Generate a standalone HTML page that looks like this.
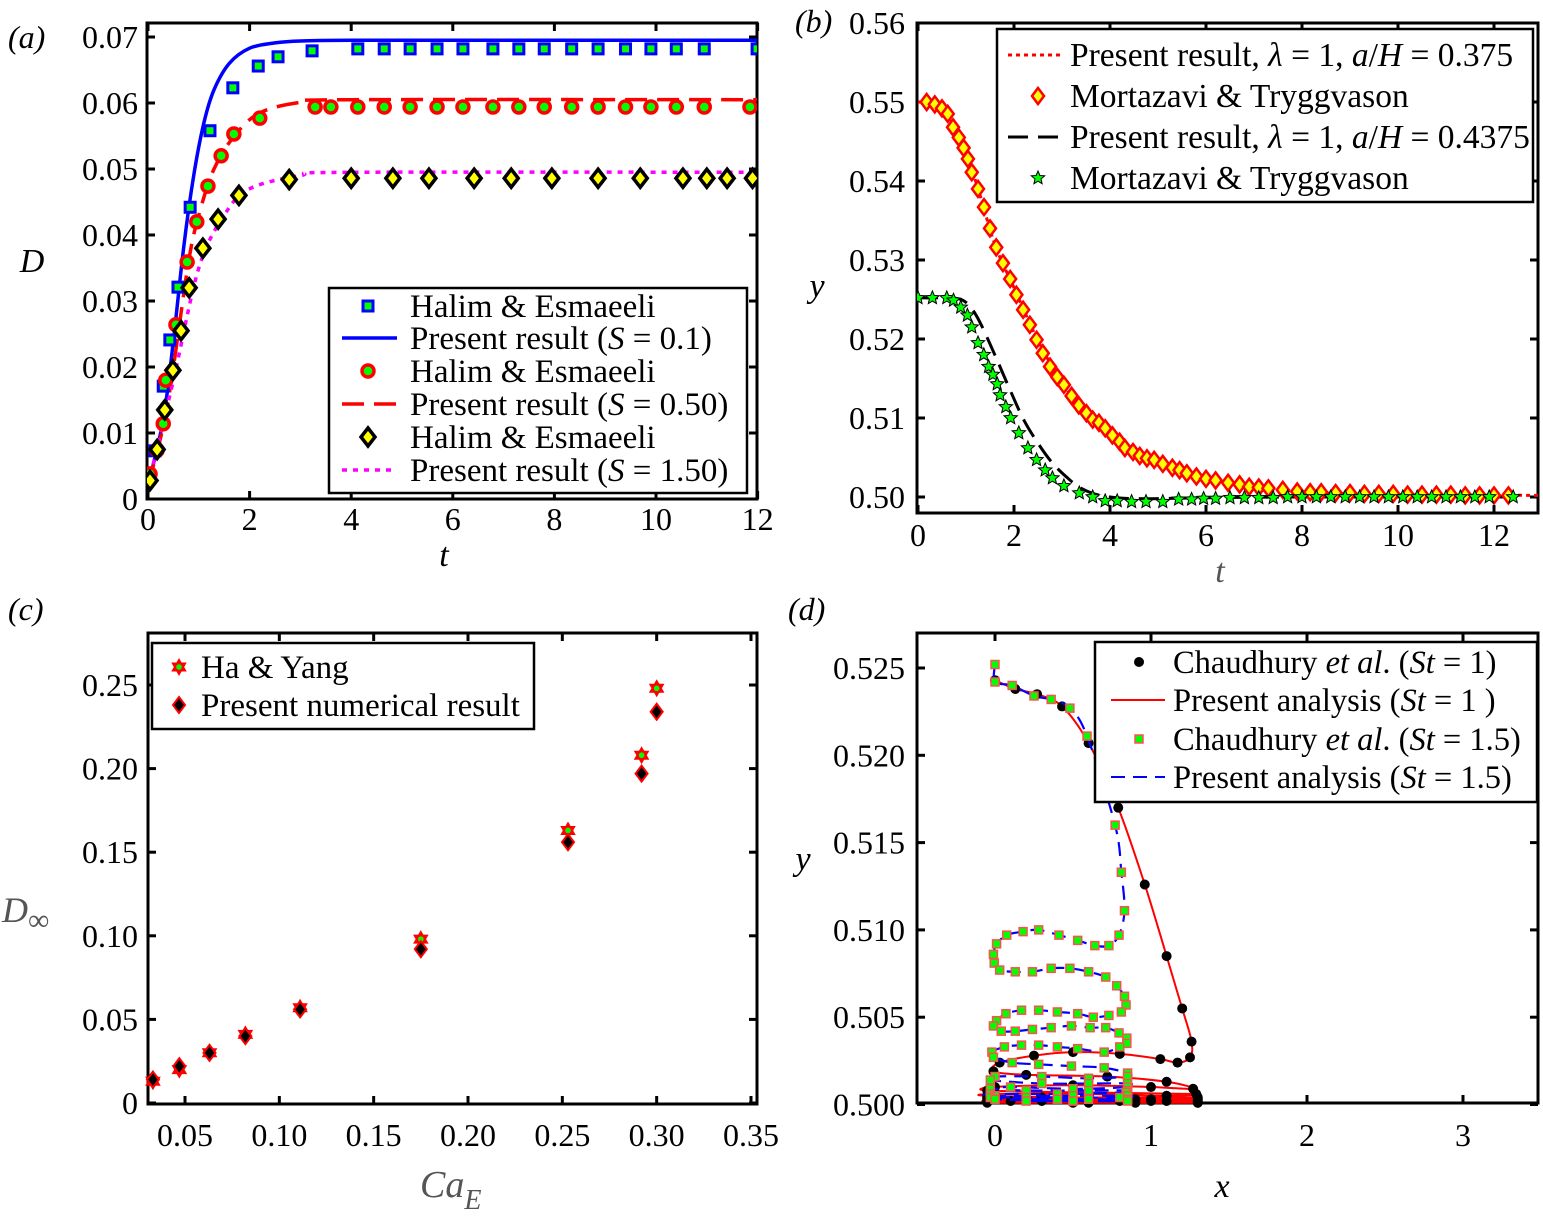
<!DOCTYPE html>
<html><head><meta charset="utf-8"><style>
html,body{margin:0;padding:0;background:#fff;}
svg text{font-family:"Liberation Serif",serif;}
</style></head><body>
<svg id="fig" width="1543" height="1223" viewBox="0 0 1543 1223" xmlns="http://www.w3.org/2000/svg">
<g id="layer"></g>
</svg>
<script>
// ---------- Panel (a) data ----------
const aSqT=[0.04,0.14,0.3,0.43,0.59,0.83,1.22,1.67,2.17,2.56,3.23,4.13,4.65,5.16,5.69,6.2,6.79,7.3,7.8,8.34,8.86,9.4,9.9,10.4,10.95,11.99];
const aSqD=[0.0033,0.0073,0.0171,0.0241,0.0321,0.0442,0.0558,0.0623,0.0656,0.067,0.0679,0.0682,0.0682,0.0682,0.0682,0.0682,0.0682,0.0682,0.0682,0.0682,0.0682,0.0682,0.0682,0.0682,0.0682,0.0682];
const aLineBT=[0,0.3,0.5,0.7,0.9,1.1,1.3,1.6,2,2.5,3,4,6,12];
const aLineBD=[0.002,0.012,0.024,0.038,0.049,0.057,0.062,0.066,0.0683,0.0691,0.0694,0.0695,0.0695,0.0695];
const aCiT=[0.04,0.18,0.3,0.35,0.55,0.77,0.96,1.18,1.44,1.69,2.2,3.29,3.6,4.13,4.65,5.16,5.69,6.2,6.79,7.3,7.8,8.34,8.86,9.4,9.9,10.4,10.95,11.85];
const aCiD=[0.0038,0.0074,0.0114,0.018,0.0264,0.0359,0.042,0.0474,0.052,0.0553,0.0577,0.0594,0.0594,0.0594,0.0594,0.0594,0.0594,0.0594,0.0594,0.0594,0.0594,0.0594,0.0594,0.0594,0.0594,0.0594,0.0594,0.0594];
const aLineRT=[0,0.3,0.5,0.8,1.0,1.3,1.7,2.2,3,4,12];
const aLineRD=[0.002,0.011,0.02,0.036,0.043,0.05,0.055,0.0585,0.0601,0.0605,0.0605];
const aDiT=[0.04,0.18,0.33,0.49,0.65,0.81,1.08,1.38,1.79,2.78,4.0,4.82,5.53,6.42,7.15,7.95,8.86,9.69,10.53,11.0,11.4,11.9];
const aDiD=[0.0028,0.0075,0.0135,0.0195,0.0255,0.032,0.038,0.0424,0.046,0.0484,0.0486,0.0486,0.0486,0.0486,0.0486,0.0486,0.0486,0.0486,0.0486,0.0486,0.0486,0.0486];
const aLineMT=[0,0.5,1,1.5,2,3,4,12];
const aLineMD=[0.002,0.018,0.035,0.043,0.047,0.049,0.0495,0.0495];
const aXTicks=[0,2,4,6,8,10,12];
const aYTicks=[0,0.01,0.02,0.03,0.04,0.05,0.06,0.07];
const aYLabels=["0","0.01","0.02","0.03","0.04","0.05","0.06","0.07"];

// ---------- Panel (b) data ----------
const bDiT=[0.18,0.35,0.5,0.62,0.73,0.85,0.95,1.04,1.12,1.25,1.375,1.5,1.63,1.77,1.92,2.05,2.19,2.33,2.47,2.6,2.75,2.9,3.04,3.2,3.35,3.51,3.64,3.77,3.9,4.05,4.2,4.31,4.48,4.62,4.77,4.92,5.1,5.3,5.45,5.6,5.8,6.0,6.2,6.46,6.7,6.9,7.1,7.3,7.6,7.9,8.17,8.4,8.7,9.0,9.3,9.6,9.9,10.2,10.5,10.8,11.1,11.4,11.7,12.0,12.3];
const bDiY=[0.55,0.5497,0.5492,0.5485,0.5468,0.5455,0.5442,0.5428,0.5411,0.539,0.5367,0.534,0.5316,0.5296,0.5276,0.5256,0.5237,0.5218,0.5199,0.5182,0.5165,0.5152,0.5142,0.5128,0.5116,0.5106,0.5098,0.5094,0.5087,0.5078,0.507,0.5062,0.5057,0.5052,0.5049,0.5047,0.5042,0.5037,0.5034,0.503,0.5026,0.5023,0.5021,0.5018,0.5016,0.5013,0.5012,0.5011,0.5009,0.5007,0.5006,0.5006,0.5005,0.5005,0.5004,0.5004,0.5004,0.5003,0.5003,0.5003,0.5003,0.5002,0.5002,0.5002,0.5002];
const bLineRT=[0,0.4,0.8,1.2,1.6,2.0,2.5,3.0,3.5,4.0,4.5,5.0,6.0,7.0,8.0,9.0,10,13];
const bLineRY=[0.55,0.5496,0.5465,0.540,0.532,0.5265,0.5198,0.5145,0.5107,0.508,0.506,0.5045,0.5025,0.5013,0.5007,0.5004,0.5003,0.5002];
const bStT=[0,0.3,0.6,0.74,0.89,1.03,1.12,1.25,1.37,1.47,1.56,1.65,1.71,1.83,1.93,2.1,2.29,2.47,2.65,2.8,3.04,3.36,3.64,3.9,4.15,4.45,4.75,5.1,5.43,5.7,5.95,6.2,6.5,6.8,7.1,7.4,7.7,8.0,8.3,8.6,8.9,9.2,9.5,9.8,10.1,10.4,10.7,11.0,11.3,11.6,11.9,12.4];
const bStY=[0.5252,0.5252,0.5252,0.5249,0.524,0.523,0.5215,0.5195,0.518,0.5165,0.5155,0.5143,0.5129,0.5114,0.51,0.5081,0.5062,0.5047,0.5034,0.5024,0.5014,0.5005,0.5,0.4995,0.4995,0.4994,0.4994,0.4994,0.4997,0.4997,0.4998,0.4998,0.4999,0.4999,0.4999,0.4999,0.5,0.5,0.5,0.5,0.5,0.5,0.5,0.5,0.5,0.5,0.5,0.5,0.5,0.5,0.5,0.5];
const bLineKT=[0,0.6,0.9,1.1,1.3,1.6,1.9,2.2,2.5,2.8,3.1,3.4,3.8,4.5,6,8,12.4];
const bLineKY=[0.5252,0.5252,0.525,0.524,0.522,0.518,0.5138,0.5098,0.5068,0.5043,0.5025,0.5011,0.5002,0.4998,0.4999,0.5,0.5];
const bXTicks=[0,2,4,6,8,10,12];
const bYTicks=[0.50,0.51,0.52,0.53,0.54,0.55,0.56];
const bYLabels=["0.50","0.51","0.52","0.53","0.54","0.55","0.56"];

// ---------- Panel (c) data ----------
const cCa=[0.033,0.047,0.063,0.082,0.111,0.175,0.253,0.292,0.300];
const cHaYang=[0.013,0.020,0.030,0.041,0.057,0.098,0.163,0.208,0.248];
const cPresent=[0.014,0.022,0.030,0.040,0.056,0.092,0.156,0.197,0.234];
const cXTicks=[0.05,0.10,0.15,0.20,0.25,0.30,0.35];
const cXLabels=["0.05","0.10","0.15","0.20","0.25","0.30","0.35"];
const cYTicks=[0,0.05,0.10,0.15,0.20,0.25];
const cYLabels=["0","0.05","0.10","0.15","0.20","0.25"];

// ---------- Panel (d) data ----------
const dRedX=[0,0.13,0.27,0.43,0.60,0.79,0.96,1.10,1.20,1.26,1.25,1.17,1.06,0.80,0.50,0.25,0.03,-0.01,0.2,0.72,1.1,1.27,1.0,0.5,0.0,-0.05,0.5,1.29,1.1,0.6,0.0,-0.05,0.6,1.3,1.0,0.3,-0.05,0.2,0.9,1.3,1.1,0.4,-0.05,0.3,1.0,1.3,0.8,0.1,-0.05,0.6,1.3,0.9,-0.05,1.3,0.5];
const dRedY=[0.5243,0.5238,0.5235,0.5228,0.5207,0.5170,0.5126,0.5085,0.5055,0.5036,0.5027,0.5024,0.5026,0.5029,0.5030,0.5028,0.5024,0.5019,0.5017,0.5016,0.5013,0.5009,0.5010,0.5011,0.5010,0.5008,0.5007,0.5006,0.5005,0.5006,0.5006,0.5005,0.5004,0.5004,0.5003,0.5004,0.5004,0.5003,0.5003,0.5003,0.5002,0.5003,0.5003,0.5002,0.5002,0.5002,0.5002,0.5002,0.5002,0.5001,0.5001,0.5001,0.5001,0.5001,0.5001];
const dBlueX=[0,0,0.11,0.25,0.36,0.48,0.59,0.77,0.81,0.83,0.795,0.73,0.64,0.53,0.41,0.28,0.18,0.075,0.01,-0.01,-0.005,0.03,0.13,0.24,0.36,0.48,0.60,0.71,0.78,0.83,0.84,0.81,0.73,0.63,0.53,0.40,0.28,0.17,0.07,0.01,-0.01,0.04,0.13,0.24,0.36,0.49,0.61,0.71,0.795,0.845,0.845,0.80,0.70,0.53,0.40,0.28,0.17,0.06,-0.02,-0.01,0.11,0.28,0.49,0.70,0.85,0.85,0.6,0.3,0.0,-0.03,0.3,0.6,0.85,0.85,0.5,0.1,-0.03,0.2,0.6,0.85,0.84,0.4,-0.03,0.0,0.5,0.85,0.8,0.2,-0.03,0.4,0.85,0.6,0,0.5,0.85,0.2,0.5];
const dBlueY=[0.5252,0.5242,0.5240,0.5234,0.5232,0.5227,0.5211,0.5160,0.5133,0.5111,0.5097,0.5091,0.5091,0.5094,0.5097,0.5100,0.5099,0.5097,0.5092,0.5086,0.5081,0.5077,0.5076,0.5076,0.5078,0.5078,0.5076,0.5073,0.5068,0.5062,0.5057,0.5053,0.5051,0.5050,0.5052,0.5053,0.5054,0.5054,0.5052,0.5048,0.5045,0.5042,0.5042,0.5043,0.5044,0.5045,0.5044,0.5044,0.5041,0.5038,0.5035,0.5033,0.5030,0.5032,0.5033,0.5034,0.5034,0.5033,0.5030,0.5027,0.5024,0.5023,0.5022,0.5021,0.5018,0.5016,0.5015,0.5016,0.5016,0.5014,0.5012,0.5012,0.5012,0.5010,0.5009,0.5010,0.5009,0.5008,0.5008,0.5008,0.5007,0.5006,0.5006,0.5005,0.5005,0.5005,0.5004,0.5004,0.5004,0.5003,0.5003,0.5003,0.5003,0.5002,0.5002,0.5002,0.5002];
const dXTicks=[0,1,2,3];
const dYTicks=[0.500,0.505,0.510,0.515,0.520,0.525];
const dYLabels=["0.500","0.505","0.510","0.515","0.520","0.525"];

// ---------- helpers ----------
const NS="http://www.w3.org/2000/svg";
const layer=document.getElementById('layer');
function mk(tag,attrs,parent){const e=document.createElementNS(NS,tag);for(const k in attrs)e.setAttribute(k,attrs[k]);(parent||layer).appendChild(e);return e;}
function txt(s,x,y,size,anchor,parent,extra){const e=mk('text',Object.assign({x:x,y:y,'font-size':size,'text-anchor':anchor||'middle'},extra||{}),parent);e.textContent=s;return e;}
function scale(d0,d1,p0,p1){return v=>p0+(v-d0)/(d1-d0)*(p1-p0);}
function catmull(pts){if(pts.length<2)return'';let d='M'+pts[0][0].toFixed(1)+','+pts[0][1].toFixed(1);for(let i=0;i<pts.length-1;i++){const p0=pts[i-1]||pts[i],p1=pts[i],p2=pts[i+1],p3=pts[i+2]||p2;const c1=[p1[0]+(p2[0]-p0[0])/6,p1[1]+(p2[1]-p0[1])/6],c2=[p2[0]-(p3[0]-p1[0])/6,p2[1]-(p3[1]-p1[1])/6];d+=' C'+c1[0].toFixed(1)+','+c1[1].toFixed(1)+' '+c2[0].toFixed(1)+','+c2[1].toFixed(1)+' '+p2[0].toFixed(1)+','+p2[1].toFixed(1);}return d;}
function frame(g,L,T,R,B,sx,sy,xt,yt,xl,yl,xlabY,ylabX){
  mk('rect',{x:L,y:T,width:R-L,height:B-T,fill:'none',stroke:'#000','stroke-width':3},g);
  xt.forEach((v,i)=>{const x=sx(v);mk('line',{x1:x,y1:B,x2:x,y2:B-8,stroke:'#000','stroke-width':3},g);mk('line',{x1:x,y1:T,x2:x,y2:T+8,stroke:'#000','stroke-width':3},g);
    const t=txt(xl[i],x,xlabY,32,'middle',g);});
  yt.forEach((v,i)=>{const y=sy(v);mk('line',{x1:L,y1:y,x2:L+8,y2:y,stroke:'#000','stroke-width':3},g);mk('line',{x1:R,y1:y,x2:R-8,y2:y,stroke:'#000','stroke-width':3},g);
    const t=txt(yl[i],ylabX,y+11,32,'end',g);});
}
function square(g,x,y,s,stroke,fill,sw){return mk('rect',{x:x-s/2,y:y-s/2,width:s,height:s,fill:fill,stroke:stroke,'stroke-width':sw},g);}
function diamond(g,x,y,w,h,stroke,fill,sw){return mk('polygon',{points:`${x},${y-h} ${x+w},${y} ${x},${y+h} ${x-w},${y}`,fill:fill,stroke:stroke,'stroke-width':sw},g);}
function star5(g,x,y,r,stroke,fill,sw){let p=[];for(let i=0;i<10;i++){const a=-Math.PI/2+i*Math.PI/5;const rr=i%2?r*0.45:r;p.push((x+rr*Math.cos(a)).toFixed(1)+','+(y+rr*Math.sin(a)).toFixed(1));}return mk('polygon',{points:p.join(' '),fill:fill,stroke:stroke,'stroke-width':sw},g);}
function hexagram(g,x,y,r){const t1=[],t2=[];for(let i=0;i<3;i++){const a=-Math.PI/2+i*2*Math.PI/3;t1.push((x+r*Math.cos(a)).toFixed(1)+','+(y+r*Math.sin(a)).toFixed(1));const b=Math.PI/2+i*2*Math.PI/3;t2.push((x+r*Math.cos(b)).toFixed(1)+','+(y+r*Math.sin(b)).toFixed(1));}
  const e1=mk('polygon',{points:t1.join(' '),fill:'#f00',stroke:'#f00','stroke-width':1},g);mk('polygon',{points:t2.join(' '),fill:'#f00',stroke:'#f00','stroke-width':1},g);mk('circle',{cx:x,cy:y,r:r*0.35,fill:'#0f0'},g);return e1;}

// ================= Panel (a) =================
(function(){
  const g=mk('g',{});
  const L=147,R=757,T=23,B=499;
  const sx=scale(0,12,148,757.6), sy=scale(0,0.07,499,37);
  frame(g,L,T,R,B,sx,sy,aXTicks,aYTicks,aXTicks.map(String),aYLabels,530,138);
  const pl=mk('text',{x:8,y:48,'font-size':32,'font-style':'italic'},g);pl.textContent='(a)';
  let e=txt('D',32,272,34,'middle',g,{'font-style':'italic'});
  e=txt('t',444,566,34,'middle',g,{'font-style':'italic'});
  const clip=mk('clipPath',{id:'ca'},g);mk('rect',{x:L,y:T,width:R-L,height:B-T},clip);
  const pg=mk('g',{'clip-path':'url(#ca)'},g);
  e=mk('path',{d:catmull(aLineBT.map((t,i)=>[sx(t),sy(aLineBD[i])])),fill:'none',stroke:'#0000ff','stroke-width':3.5},pg);
  e=mk('path',{d:catmull(aLineRT.map((t,i)=>[sx(t),sy(aLineRD[i])])),fill:'none',stroke:'#ff0000','stroke-width':3.5,'stroke-dasharray':'22,10'},pg);
  e=mk('path',{d:catmull(aLineMT.map((t,i)=>[sx(t),sy(aLineMD[i])])),fill:'none',stroke:'#ff00ff','stroke-width':3.5,'stroke-dasharray':'5,6'},pg);
  aSqT.forEach((t,i)=>{const m=square(pg,sx(t),sy(aSqD[i]),10,'#0000ff','#00ff00',3);});
  aCiT.forEach((t,i)=>{const m=mk('circle',{cx:sx(t),cy:sy(aCiD[i]),r:6,fill:'#00ff00',stroke:'#ff0000','stroke-width':3.5},pg);});
  aDiT.forEach((t,i)=>{const m=diamond(pg,sx(t),sy(aDiD[i]),7,9,'#000','#ffff00',3.5);});
  const lg=mk('g',{},g);
  mk('rect',{x:329,y:288,width:418,height:205,fill:'#fff',stroke:'#000','stroke-width':2.5},lg);
  const ys=[306,338,371,404,437,470];
  square(lg,368,ys[0],10,'#0000ff','#00ff00',3);
  mk('line',{x1:342,y1:ys[1],x2:397,y2:ys[1],stroke:'#0000ff','stroke-width':3.5},lg);
  mk('circle',{cx:368,cy:ys[2],r:6,fill:'#00ff00',stroke:'#ff0000','stroke-width':3.5},lg);
  mk('line',{x1:342,y1:ys[3],x2:397,y2:ys[3],stroke:'#ff0000','stroke-width':3.5,'stroke-dasharray':'22,10'},lg);
  diamond(lg,368,ys[4],7,9,'#000','#ffff00',3.5);
  mk('line',{x1:342,y1:ys[5],x2:397,y2:ys[5],stroke:'#ff00ff','stroke-width':3.5,'stroke-dasharray':'5,6'},lg);
  const labs=['Halim &amp; Esmaeeli','Present result (<tspan font-style="italic">S</tspan> = 0.1)','Halim &amp; Esmaeeli','Present result (<tspan font-style="italic">S</tspan> = 0.50)','Halim &amp; Esmaeeli','Present result (<tspan font-style="italic">S</tspan> = 1.50)'];
  labs.forEach((s,i)=>{const t=mk('text',{x:410,y:ys[i]+11,'font-size':33},lg);t.innerHTML=s;});
})();

// ================= Panel (b) =================
(function(){
  const g=mk('g',{});
  const L=917,R=1538,T=23,B=513;
  const sx=scale(0,12,918,1494), sy=scale(0.50,0.51,497,418);
  frame(g,L,T,R,B,sx,sy,bXTicks,bYTicks,bXTicks.map(String),bYLabels,546,905);
  const pl=mk('text',{x:795,y:32,'font-size':32,'font-style':'italic'},g);pl.textContent='(b)';
  let e=txt('y',817,297,34,'middle',g,{'font-style':'italic'});
  e=txt('t',1220,582,34,'middle',g,{'font-style':'italic',fill:'#555'});
  const clip=mk('clipPath',{id:'cb'},g);mk('rect',{x:L,y:T,width:R-L,height:B-T},clip);
  const pg=mk('g',{'clip-path':'url(#cb)'},g);
  e=mk('path',{d:catmull(bLineRT.map((t,i)=>[sx(t),sy(bLineRY[i])])),fill:'none',stroke:'#ff0000','stroke-width':3,'stroke-dasharray':'4,4'},pg);
  e=mk('path',{d:catmull(bLineKT.map((t,i)=>[sx(t),sy(bLineKY[i])])),fill:'none',stroke:'#000','stroke-width':3,'stroke-dasharray':'20,10'},pg);
  bDiT.forEach((t,i)=>{const m=diamond(pg,sx(t),sy(bDiY[i]),6,8,'#ff0000','#ffff00',2.5);});
  bStT.forEach((t,i)=>{const m=star5(pg,sx(t),sy(bStY[i]),7,'#000','#00ff00',1);});
  const lg=mk('g',{},g);
  mk('rect',{x:997,y:29,width:536,height:173,fill:'#fff',stroke:'#000','stroke-width':2.5},lg);
  const ys=[55,96,137,178];
  mk('line',{x1:1008,y1:ys[0],x2:1062,y2:ys[0],stroke:'#ff0000','stroke-width':3,'stroke-dasharray':'4,4'},lg);
  diamond(lg,1038,ys[1],6,8,'#ff0000','#ffff00',2.5);
  mk('line',{x1:1008,y1:ys[2],x2:1062,y2:ys[2],stroke:'#000','stroke-width':3,'stroke-dasharray':'20,10'},lg);
  star5(lg,1038,ys[3],7,'#000','#00ff00',1);
  const labs=['Present result, <tspan font-style="italic">λ</tspan> = 1, <tspan font-style="italic">a</tspan>/<tspan font-style="italic">H</tspan> = 0.375','Mortazavi &amp; Tryggvason','Present result, <tspan font-style="italic">λ</tspan> = 1, <tspan font-style="italic">a</tspan>/<tspan font-style="italic">H</tspan> = 0.4375','Mortazavi &amp; Tryggvason'];
  labs.forEach((s,i)=>{const t=mk('text',{x:1070,y:ys[i]+11,'font-size':33.5},lg);t.innerHTML=s;});
})();

// ================= Panel (c) =================
(function(){
  const g=mk('g',{});
  const L=148,R=757,T=633,B=1104;
  const sx=scale(0.05,0.35,185,751), sy=scale(0,0.25,1103,685);
  frame(g,L,T,R,B,sx,sy,cXTicks,cYTicks,cXLabels,cYLabels,1146,138);
  const pl=mk('text',{x:8,y:620,'font-size':32,'font-style':'italic'},g);pl.textContent='(c)';
  let e=mk('text',{x:2,y:922,'font-size':36,fill:'#555','font-style':'italic'},g);e.innerHTML='D<tspan font-style="normal" font-size="30" dy="8">∞</tspan>';
  e=mk('text',{x:420,y:1197,'font-size':38,fill:'#555','font-style':'italic'},g);e.innerHTML='Ca<tspan font-size="28" dy="12">E</tspan>';
  cCa.forEach((c,i)=>{const m=hexagram(g,sx(c),sy(cHaYang[i]),8);});
  cCa.forEach((c,i)=>{const m=diamond(g,sx(c),sy(cPresent[i]),6,8,'#ff0000','#000',2);});
  const lg=mk('g',{},g);
  mk('rect',{x:152,y:643,width:382,height:86,fill:'#fff',stroke:'#000','stroke-width':2.5},lg);
  hexagram(lg,179,667,8);diamond(lg,179,705,6,8,'#ff0000','#000',2);
  let t=txt('Ha & Yang',201,678,33,'start',lg);
  t=txt('Present numerical result',201,716,33,'start',lg);
})();

// ================= Panel (d) =================
(function(){
  const g=mk('g',{});
  const L=917,R=1538,T=633,B=1103;
  const sx=scale(0,1,995,1151), sy=scale(0.500,0.525,1104.5,668);
  frame(g,L,T,R,B,sx,sy,dXTicks,dYTicks,dXTicks.map(String),dYLabels,1146,905);
  const pl=mk('text',{x:788,y:620,'font-size':32,'font-style':'italic'},g);pl.textContent='(d)';
  let e=txt('y',803,870,34,'middle',g,{'font-style':'italic'});
  e=txt('x',1222,1197,34,'middle',g,{'font-style':'italic'});
  e=mk('path',{d:catmull(dRedX.map((x,i)=>[sx(x),sy(dRedY[i])])),fill:'none',stroke:'#ff0000','stroke-width':2},g);
  dRedX.forEach((x,i)=>{const m=mk('circle',{cx:sx(x),cy:sy(dRedY[i]),r:5,fill:'#000'},g);});
  e=mk('path',{d:catmull(dBlueX.map((x,i)=>[sx(x),sy(dBlueY[i])])),fill:'none',stroke:'#0000ff','stroke-width':2.2,'stroke-dasharray':'14,8'},g);
  dBlueX.forEach((x,i)=>{const m=square(g,sx(x),sy(dBlueY[i]),8,'#ff5050','#00ff00',1.5);});
  const lg=mk('g',{},g);
  mk('rect',{x:1095,y:642,width:442,height:160,fill:'#fff',stroke:'#000','stroke-width':2.5},lg);
  const ys=[662,700,739,777];
  mk('circle',{cx:1139,cy:ys[0],r:5,fill:'#000'},lg);
  mk('line',{x1:1111,y1:ys[1],x2:1165,y2:ys[1],stroke:'#ff0000','stroke-width':2},lg);
  square(lg,1139,ys[2],8,'#ff5050','#00ff00',1.5);
  mk('line',{x1:1111,y1:ys[3],x2:1165,y2:ys[3],stroke:'#0000ff','stroke-width':2,'stroke-dasharray':'14,8'},lg);
  const labs=['Chaudhury <tspan font-style="italic">et al</tspan>. (<tspan font-style="italic">St</tspan> = 1)','Present analysis (<tspan font-style="italic">St</tspan> = 1 )','Chaudhury <tspan font-style="italic">et al</tspan>. (<tspan font-style="italic">St</tspan> = 1.5)','Present analysis (<tspan font-style="italic">St</tspan> = 1.5)'];
  labs.forEach((s,i)=>{const t=mk('text',{x:1173,y:ys[i]+11,'font-size':32.5},lg);t.innerHTML=s;});
})();
</script>
</body></html>
